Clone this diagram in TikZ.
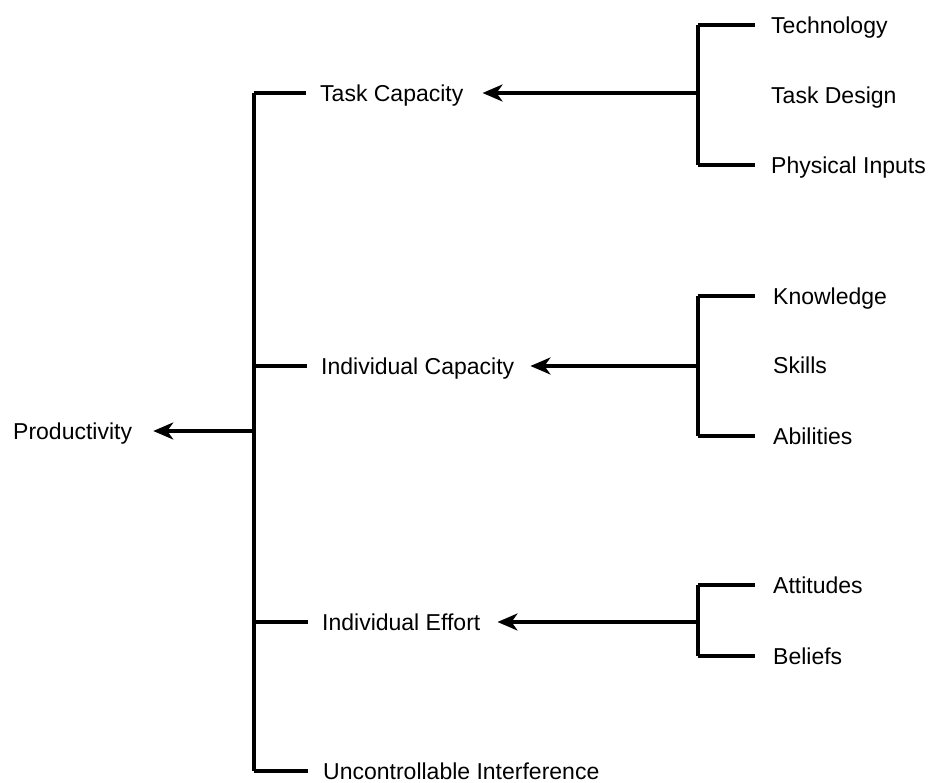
\documentclass[tikz,border=0pt]{standalone}
\usepackage{fontspec}
\setmainfont{Liberation Sans}
\usetikzlibrary{arrows.meta}
\begin{document}
\begin{tikzpicture}[x=1pt,y=-1pt,
  lbl/.style={font=\fontsize{23}{27}\selectfont, anchor=west, inner sep=0pt, text height=16.5pt, text depth=0pt},
  ln/.style={line width=3.2pt},
  arr/.style={ln, -{Stealth[length=20pt,width=17pt,inset=6pt]}}]
\useasboundingbox (0,0) rectangle (930,783);
% nodes
\node[lbl] (prod) at (13,431) {Productivity};
\node[lbl] (tc) at (320,93) {Task Capacity};
\node[lbl] (ic) at (321,366) {Individual Capacity};
\node[lbl] (ie) at (322,622) {Individual Effort};
\node[lbl] (ui) at (323,771) {Uncontrollable Interference};
\node[lbl] (tech) at (771,25) {Technology};
\node[lbl] (td) at (771,95) {Task Design};
\node[lbl] (pi) at (771,165) {Physical Inputs};
\node[lbl] (kn) at (773,296) {Knowledge};
\node[lbl] (sk) at (773,365) {Skills};
\node[lbl] (ab) at (773,436) {Abilities};
\node[lbl] (at) at (773,585) {Attitudes};
\node[lbl] (be) at (773,656) {Beliefs};
% spine coordinates
\coordinate (sTop) at (254,93);
\coordinate (sIC) at (254,366);
\coordinate (sP) at (254,431);
\coordinate (sIE) at (254,622);
\coordinate (sBot) at (254,771);
% left spine
\draw[ln] (sTop) -- (sBot);
\draw[ln] (sTop) -- ([xshift=-14pt]tc.west);
\draw[ln] (sIC) -- ([xshift=-14pt]ic.west);
\draw[ln] (sIE) -- ([xshift=-14pt]ie.west);
\draw[ln] (sBot) -- ([xshift=-15pt]ui.west);
\draw[arr] (sP) -- ([xshift=21pt]prod.east);
% right bracket 1
\coordinate (b1t) at (698,25);
\coordinate (b1m) at (698,93);
\coordinate (b1b) at (698,165);
\draw[ln] (b1t) -- (b1b);
\draw[ln] (b1t) -- ([xshift=-16pt]tech.west);
\draw[ln] (b1b) -- ([xshift=-16pt]pi.west);
\draw[arr] (b1m) -- ([xshift=19pt]tc.east);
% right bracket 2
\coordinate (b2t) at (698,296);
\coordinate (b2m) at (698,366);
\coordinate (b2b) at (698,436);
\draw[ln] (b2t) -- (b2b);
\draw[ln] (b2t) -- ([xshift=-18pt]kn.west);
\draw[ln] (b2b) -- ([xshift=-18pt]ab.west);
\draw[arr] (b2m) -- ([xshift=16pt]ic.east);
% right bracket 3
\coordinate (b3t) at (698,585);
\coordinate (b3m) at (698,622);
\coordinate (b3b) at (698,656);
\draw[ln] (b3t) -- (b3b);
\draw[ln] (b3t) -- ([xshift=-18pt]at.west);
\draw[ln] (b3b) -- ([xshift=-18pt]be.west);
\draw[arr] (b3m) -- ([xshift=17pt]ie.east);
\end{tikzpicture}
\end{document}
